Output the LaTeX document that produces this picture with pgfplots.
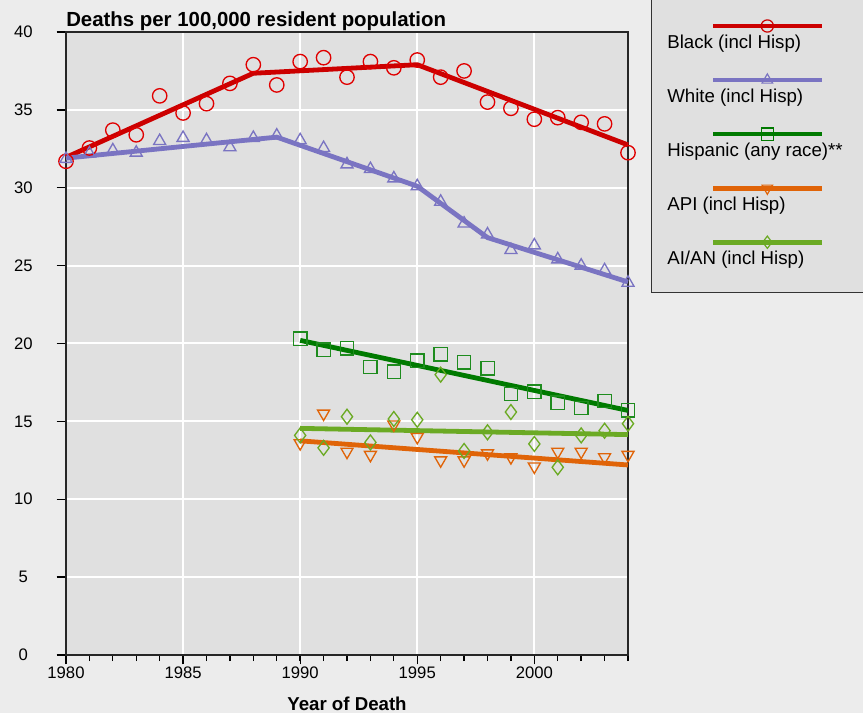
\documentclass[border=0pt]{standalone}
\usepackage{fontspec}
\setmainfont{Liberation Sans}
\usepackage{pgfplots}
\pgfplotsset{compat=1.18}

\definecolor{figbg}{HTML}{ECECEC}
\definecolor{plotbg}{HTML}{E0E0E0}
\definecolor{blkline}{HTML}{CC0000}
\definecolor{blkmark}{HTML}{E00000}
\definecolor{wht}{HTML}{7A74C2}
\definecolor{hispline}{HTML}{007A00}
\definecolor{hispmark}{HTML}{1E8C1E}
\definecolor{api}{HTML}{E06408}
\definecolor{aian}{HTML}{6BAA24}

% legend sample: thick line above the text, marker in its middle
\pgfplotsset{
  legsample/.style n args={3}{legend image code/.code={%
    \draw[overlay, line width=3.5pt, color=#1] (34.3pt,12.7pt) -- (115.8pt,12.7pt);
    \draw[overlay, color=#1, line width=0.9pt] plot[mark=#2, mark size=4.6pt, #3] coordinates {(75pt,12.7pt)};
  }},
  pts/.style={only marks, line width=1pt, forget plot},
}

\begin{document}
\begin{tikzpicture}
\useasboundingbox (0,0) rectangle (647.25pt,534.75pt);
\clip (0,0) rectangle (647.25pt,534.75pt);
\fill[figbg] (0,0) rectangle (647.25pt,534.75pt);
\filldraw[fill=plotbg, draw=black!80, line width=1.1pt] (488.8pt,315.5pt) rectangle (700pt,560pt);

\begin{axis}[
  at={(49.5pt,43.5pt)}, anchor=south west,
  scale only axis, width=421.5pt, height=467.25pt,
  xmin=1980, xmax=2004, ymin=0, ymax=40,
  xtick={1980,1985,...,2000},
  minor xtick={1981,1982,...,2004},
  ytick={0,5,...,40},
  /pgf/number format/1000 sep={},
  /pgf/number format/assume math mode=true,
  tick pos=left, tick align=outside,
  major tick length=7pt, minor tick length=4.5pt,
  tick style={black, line width=1pt},
  axis background/.style={fill=plotbg},
  axis line style={black!85, line width=1.2pt},
  grid=major, major grid style={white, line width=1.5pt},
  ticklabel style={font=\fontsize{12.5}{14}\selectfont},
  yticklabel style={anchor=center, xshift=-25pt},
  xticklabel style={anchor=center, yshift=-6.5pt},
  title={Deaths per 100,000 resident population},
  title style={at={(rel axis cs:0,1)}, anchor=base west, yshift=-2.25pt, inner sep=0pt,
    font=\fontsize{15.3}{18}\selectfont\bfseries},
  xlabel={Year of Death},
  xlabel style={at={(axis description cs:0.5,0)}, anchor=center, yshift=-36.75pt,
    font=\fontsize{14}{17}\selectfont\bfseries},
  clip=false,
  legend cell align=left,
  legend style={draw=none, fill=none, inner sep=0pt, outer sep=0pt,
    at={(axis description cs:1.0700,0.9949)}, anchor=north west,
    row sep=28.9pt, column sep=0pt, nodes={inner sep=0pt},
    font=\fontsize{14}{16}\selectfont},
]

% observed rates
\addplot[pts, blkmark, mark=o, mark size=5.4pt] coordinates {
  (1980,31.7) (1981,32.55) (1982,33.7) (1983,33.4) (1984,35.9) (1985,34.8)
  (1986,35.4) (1987,36.7) (1988,37.9) (1989,36.6) (1990,38.1) (1991,38.35)
  (1992,37.1) (1993,38.1) (1994,37.7) (1995,38.2) (1996,37.1) (1997,37.5)
  (1998,35.5) (1999,35.1) (2000,34.4) (2001,34.5) (2002,34.2) (2003,34.1)
  (2004,32.25)};
\addplot[pts, wht, mark=triangle, mark size=5.2pt] coordinates {
  (1980,31.85) (1981,32.2) (1982,32.4) (1983,32.25) (1984,33.0) (1985,33.2)
  (1986,33.05) (1987,32.6) (1988,33.2) (1989,33.35) (1990,33.05) (1991,32.55)
  (1992,31.5) (1993,31.2) (1994,30.6) (1995,30.1) (1996,29.1) (1997,27.7)
  (1998,27.0) (1999,26.0) (2000,26.3) (2001,25.4) (2002,25.0) (2003,24.7)
  (2004,23.9)};
\addplot[pts, hispmark, mark=square, mark size=5pt] coordinates {
  (1990,20.3) (1991,19.6) (1992,19.7) (1993,18.5) (1994,18.2) (1995,18.9)
  (1996,19.3) (1997,18.8) (1998,18.4) (1999,16.75) (2000,16.9) (2001,16.2)
  (2002,15.85) (2003,16.3) (2004,15.7)};
\addplot[pts, api, mark=triangle, mark size=5.2pt, mark options={rotate=180}] coordinates {
  (1990,13.6) (1991,15.5) (1992,13.05) (1993,12.85) (1994,14.8) (1995,14.0)
  (1996,12.5) (1997,12.5) (1998,12.95) (1999,12.7) (2000,12.1) (2001,13.05)
  (2002,13.05) (2003,12.7) (2004,12.85)};
\addplot[pts, aian, mark=diamond, mark size=5.6pt] coordinates {
  (1990,14.1) (1991,13.3) (1992,15.3) (1993,13.65) (1994,15.15) (1995,15.1)
  (1996,18.0) (1997,13.1) (1998,14.3) (1999,15.6) (2000,13.55) (2001,12.05)
  (2002,14.1) (2003,14.4) (2004,14.85)};

% fitted trends
\addplot[blkline, line width=3.6pt, legsample={blkline}{o}{}] coordinates {
  (1980,31.95) (1988,37.35) (1995,37.9) (2004,32.75)};
\addlegendentry{Black (incl Hisp)}
\addplot[wht, line width=3.6pt, legsample={wht}{triangle}{}] coordinates {
  (1980,31.9) (1989,33.25) (1995,30.1) (1998,26.8) (2004,23.95)};
\addlegendentry{White (incl Hisp)}
\addplot[hispline, line width=3.6pt, legsample={hispline}{square}{}] coordinates {
  (1990,20.2) (2004,15.7)};
\addlegendentry{Hispanic (any race)**}
\addplot[api, line width=3.6pt, legsample={api}{triangle}{mark options={rotate=180}}] coordinates {
  (1990,13.75) (2004,12.2)};
\addlegendentry{API (incl Hisp)}
\addplot[aian, line width=3.6pt, legsample={aian}{diamond}{}] coordinates {
  (1990,14.55) (2004,14.15)};
\addlegendentry{AI/AN (incl Hisp)}
\end{axis}
\end{tikzpicture}
\end{document}
